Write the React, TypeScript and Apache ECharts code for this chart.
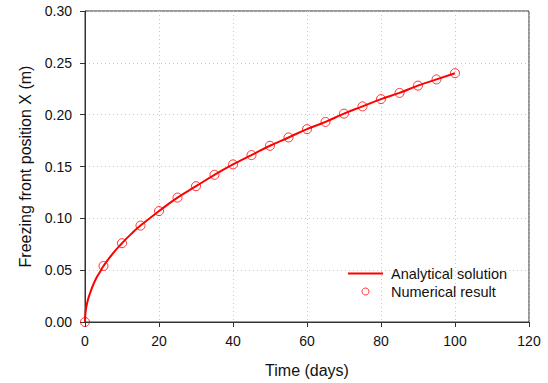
import React, { useEffect, useRef } from "react";
import * as echarts from "echarts";

const numericalDays = [0, 5, 10, 15, 20, 25, 30, 35, 40, 45, 50, 55, 60, 65, 70, 75, 80, 85, 90, 95, 100];
const numericalX = [0, 0.054, 0.076, 0.093, 0.107, 0.12, 0.131, 0.142, 0.152, 0.161, 0.17, 0.178, 0.186, 0.193, 0.201, 0.208, 0.215, 0.221, 0.228, 0.234, 0.24];

const analyticalDays = [0, 0.1, 0.25, 0.5, 1, 1.5, 2, 3, 4, 5, 7.5, 10, 12.5, 15, 20, 25, 30, 35, 40, 45, 50, 55, 60, 65, 70, 75, 80, 85, 90, 95, 100];
const analyticalX = [0, 0.0076, 0.012, 0.017, 0.024, 0.029, 0.034, 0.042, 0.048, 0.054, 0.066, 0.076, 0.085, 0.093, 0.107, 0.12, 0.131, 0.142, 0.152, 0.161, 0.17, 0.178, 0.186, 0.193, 0.201, 0.208, 0.215, 0.221, 0.228, 0.234, 0.24];

const FONT = "Liberation Sans, Arial, sans-serif";

export default function App() {
  const ref = useRef<HTMLDivElement>(null);
  useEffect(() => {
    document.body.style.margin = "0";
    if (!ref.current) return;
    const chart = echarts.init(ref.current, null, { renderer: "svg" });
    chart.setOption({
      animation: false,
      backgroundColor: "#fff",
      textStyle: { fontFamily: FONT },
      grid: { left: 85, top: 11, right: 19, bottom: 61, show: true, borderColor: "#333", borderWidth: 1 },
      legend: {
        orient: "vertical",
        left: 342,
        top: 261,
        itemWidth: 35,
        itemHeight: 7,
        itemGap: 3,
        textStyle: { fontFamily: FONT, fontSize: 14.5, color: "#111", padding: [0, 0, 0, 3] },
        data: [
          { name: "Analytical solution", itemStyle: { opacity: 0 }, lineStyle: { width: 2 } },
          { name: "Numerical result", icon: "circle", itemStyle: { color: "rgba(0,0,0,0)", borderColor: "#ff0000", borderWidth: 1 } },
        ],
      },
      xAxis: {
        type: "value",
        min: 0,
        max: 120,
        interval: 20,
        name: "Time (days)",
        nameLocation: "middle",
        nameGap: 40,
        nameTextStyle: { fontFamily: FONT, fontSize: 16, color: "#111" },
        axisLine: { show: true, lineStyle: { color: "#333" } },
        axisTick: { show: true, length: 5, lineStyle: { color: "#333" } },
        axisLabel: { fontFamily: FONT, fontSize: 14, color: "#111", margin: 12 },
        splitLine: { show: true, lineStyle: { color: "#c8c8c8", type: [1, 3] } },
      },
      yAxis: {
        type: "value",
        min: 0,
        max: 0.3,
        interval: 0.05,
        name: "Freezing front position X (m)",
        nameLocation: "middle",
        nameGap: 51,
        nameTextStyle: { fontFamily: FONT, fontSize: 16, color: "#111" },
        axisLine: { show: true, lineStyle: { color: "#333" } },
        axisTick: { show: true, length: 5, lineStyle: { color: "#333" } },
        axisLabel: { fontFamily: FONT, fontSize: 14, color: "#111", margin: 13, formatter: (v: number) => v.toFixed(2) },
        splitLine: { show: true, lineStyle: { color: "#c8c8c8", type: [1, 3] } },
      },
      series: [
        {
          name: "Analytical solution",
          type: "line",
          smooth: true,
          showSymbol: false,
          symbol: "none",
          lineStyle: { color: "#ff0000", width: 2 },
          itemStyle: { color: "#ff0000" },
          data: analyticalDays.map((d, i) => [d, analyticalX[i]]),
          z: 2,
        },
        {
          name: "Numerical result",
          type: "scatter",
          symbol: "circle",
          symbolSize: 9,
          itemStyle: { color: "rgba(0,0,0,0)", borderColor: "#ff0000", borderWidth: 1 },
          data: numericalDays.map((d, i) => [d, numericalX[i]]),
          z: 3,
        },
      ],
    });
    return () => chart.dispose();
  }, []);
  return <div ref={ref} style={{ width: 548, height: 383 }} />;
}
